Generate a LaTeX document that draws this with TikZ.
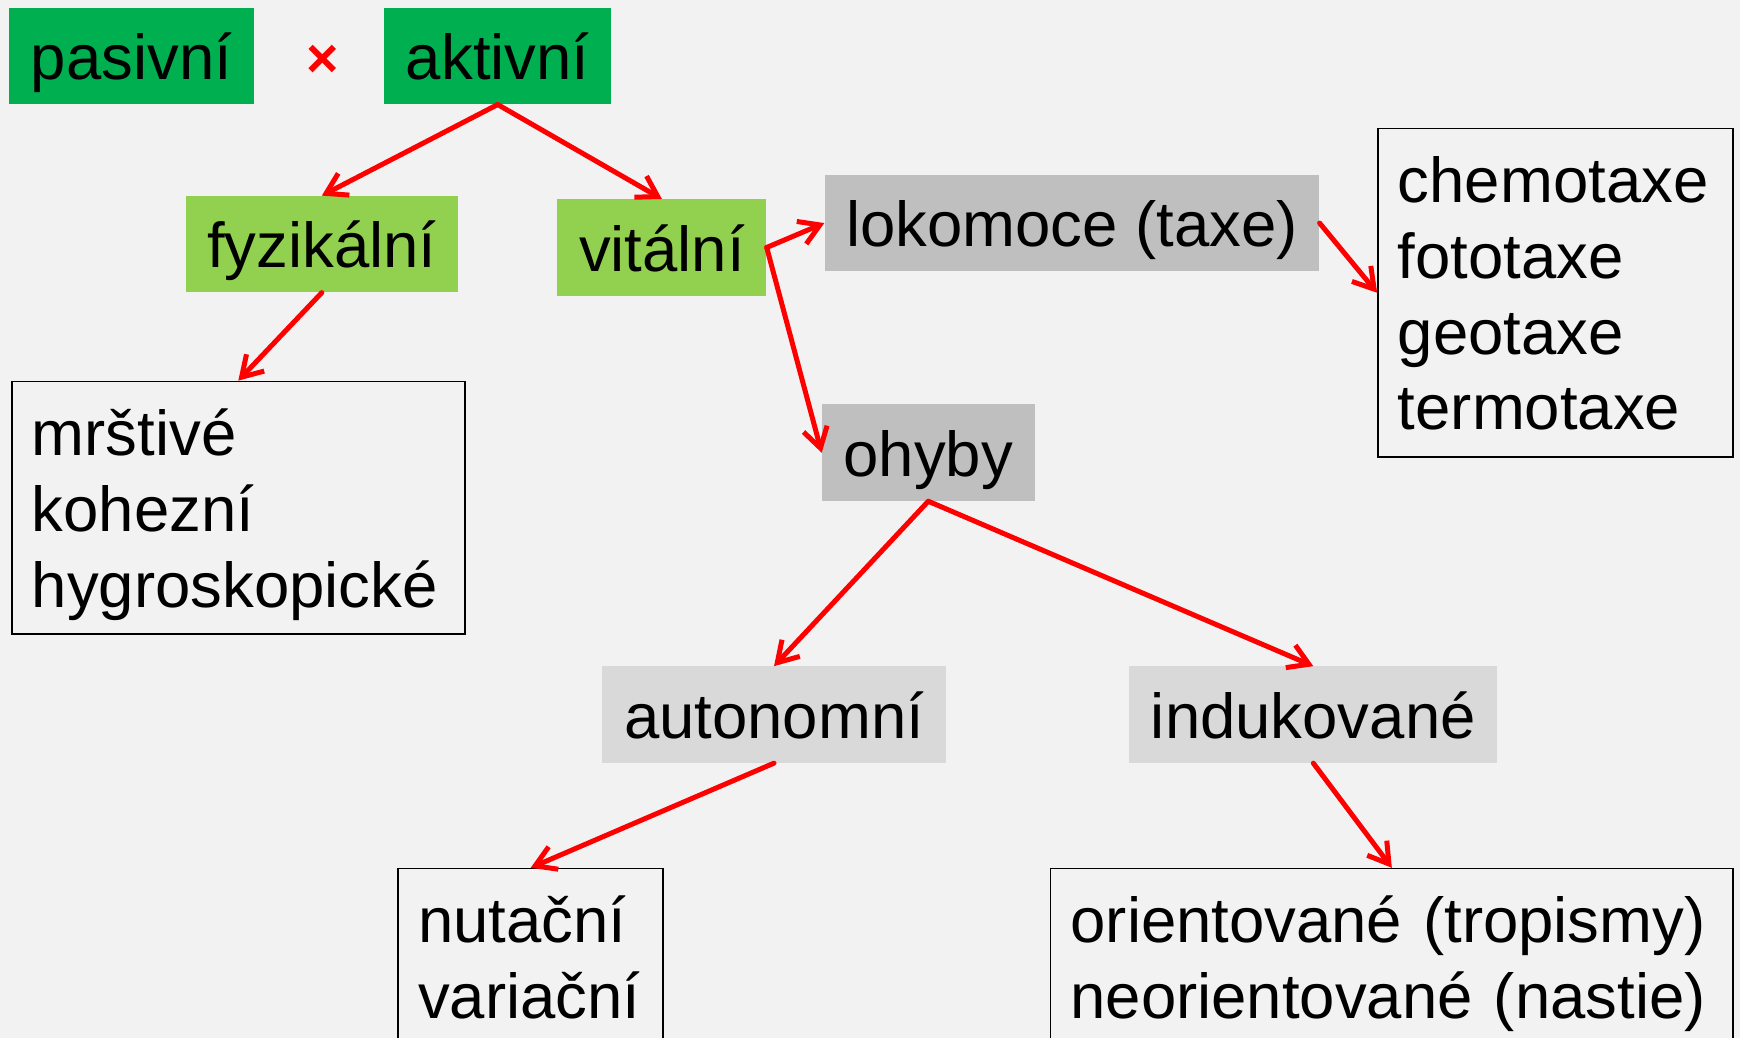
\documentclass[tikz,border=0pt]{standalone}
\usepackage{fontspec}
\setmainfont{Liberation Sans}
\usetikzlibrary{arrows.meta}
\definecolor{bgcol}{HTML}{F2F2F2}
\definecolor{darkgreen}{HTML}{00B050}
\definecolor{lightgreen}{HTML}{92D050}
\definecolor{midgray}{HTML}{BFBFBF}
\definecolor{lightgray}{HTML}{D9D9D9}
\newcommand\topstrut{\rule{0pt}{66.5pt}}
\newcommand\botstrut{\rule[-24.5pt]{0pt}{24.5pt}}

\begin{document}
\begin{tikzpicture}[x=1pt,y=-1pt,
    bigfont/.style={font=\fontsize{57.2}{68.4}\selectfont},
    label/.style={bigfont,inner xsep=19.5pt,inner ysep=0pt,text height=65pt,text depth=22pt},
    darkbox/.style={label,fill=darkgreen},
    greenbox/.style={label,fill=lightgreen},
    graybox/.style={label,fill=midgray},
    palebox/.style={label,fill=lightgray},
    listbox/.style={bigfont,draw=black,line width=1.5pt,anchor=north west,align=left,inner xsep=18pt,inner ysep=0pt},
    cross/.style={font=\fontsize{50}{60}\selectfont\bfseries,text=red,inner sep=0pt},
    link/.style={draw=red,line width=4.5pt,line cap=round,-{Straight Barb[length=18pt,width=22pt]}}]

  %%%% Page and background %%%%
  \useasboundingbox (0,0) rectangle (1568,935);
  \clip (0,0) rectangle (1568,935);
  \fill[bgcol] (0,0) rectangle (1568,935);

  %% Top row
  \node[darkbox] (pasivni) at (118.5,50.5) {pasivní};
  \node[cross] (vs) at (290.5,55) {×};
  \node[darkbox] (aktivni) at (448.5,50.5) {aktivní};

  %% Second level
  \node[greenbox] (fyzikalni) at (290,220) {fyzikální};
  \node[greenbox] (vitalni) at (596.5,223) {vitální};

  %% Kinds of vital movement
  \node[graybox] (lokomoce) at (966,201) {lokomoce (taxe)};
  \node[graybox] (ohyby) at (836.5,408) {ohyby};
  \node[palebox] (autonomni) at (697.5,644) {autonomní};
  \node[palebox] (indukovane) at (1183.5,644) {indukované};

  %% Lists
  \node[listbox,text width=372pt] (fyzlist) at (10,343)
    {\topstrut mrštivé\\kohezní\\hygroskopické\botstrut};
  \node[listbox,text width=284pt] (taxlist) at (1241,115)
    {\topstrut chemotaxe\\fototaxe\\geotaxe\\termotaxe\botstrut};
  \node[listbox,text width=203pt] (autlist) at (358,782)
    {\topstrut nutační\\variační\botstrut};
  \node[listbox,text width=579pt] (indlist) at (946,782)
    {\topstrut orientované (tropismy)\\neorientované (nastie)\botstrut};

  %% Arrows between the boxes
  \foreach \from/\to in {aktivni.south/fyzikalni.north, aktivni.south/vitalni.north,
      fyzikalni.south/fyzlist.north, vitalni.east/lokomoce.west, vitalni.east/ohyby.west,
      lokomoce.east/taxlist.west, ohyby.south/autonomni.north, ohyby.south/indukovane.north,
      autonomni.south/autlist.north, indukovane.south/indlist.north}{
    \draw[link] (\from) -- (\to);
  }

\end{tikzpicture}
\end{document}
